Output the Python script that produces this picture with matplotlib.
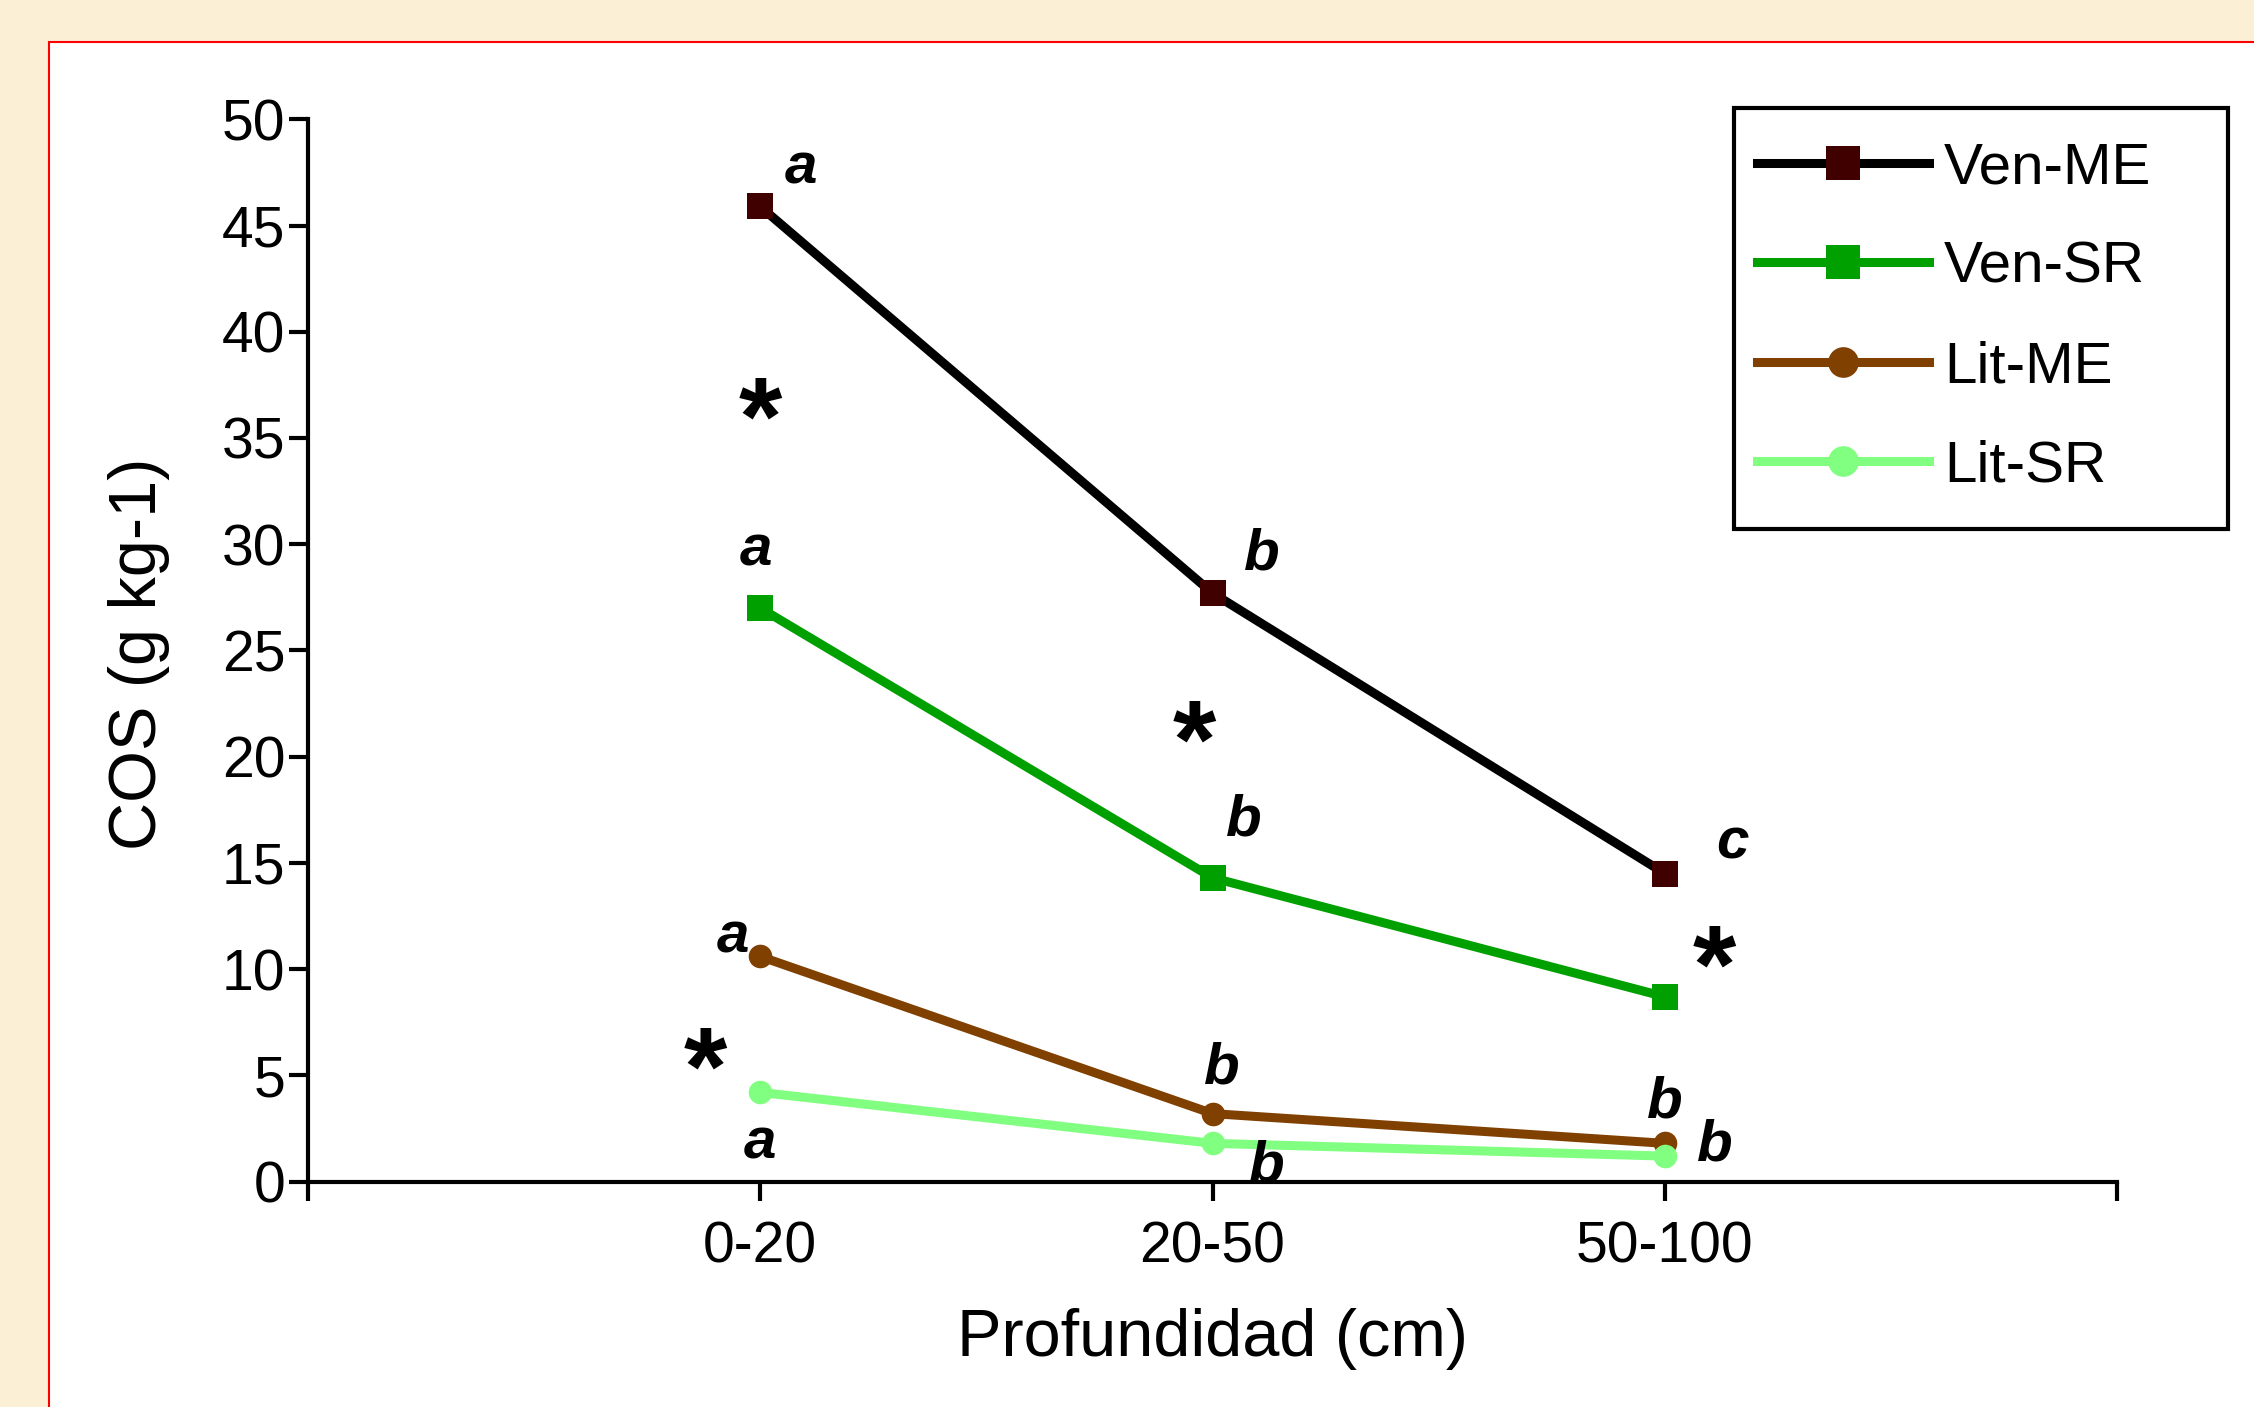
import matplotlib
matplotlib.use("Agg")
import matplotlib.pyplot as plt
from matplotlib.patches import Rectangle

plt.rcParams['font.family'] = ['Liberation Sans', 'DejaVu Sans']

# ---- data ----
categories = ['0-20', '20-50', '50-100']
series_names = ['Ven-ME', 'Ven-SR', 'Lit-ME', 'Lit-SR']
ven_me = [45.9, 27.7, 14.5]
ven_sr = [27.0, 14.3, 8.7]
lit_me = [10.6, 3.2, 1.8]
lit_sr = [4.2, 1.8, 1.2]
y_ticks = [0, 5, 10, 15, 20, 25, 30, 35, 40, 45, 50]

# significance letters
letters_x = [0.09, -0.01, 1.11, 1.07, 2.15, -0.06, 1.02, 0.0, 1.12, 2.0, 2.11]
letters_y = [47.7, 29.7, 29.5, 17.0, 15.9, 11.5, 5.3, 1.8, 0.7, 3.7, 1.7]
letters_s = ['a', 'a', 'b', 'b', 'c', 'a', 'b', 'a', 'b', 'b', 'b']
stars_x = [0.0, 0.96, 2.11, -0.12]
stars_y = [35.6, 20.4, 9.8, 5.0]

W, H = 2254, 1407
fig = plt.figure(figsize=(W / 100, H / 100), dpi=100)
fig.patch.set_facecolor('#FBEFD6')
fig.patches.append(Rectangle((49 / W, -0.05), 1.2, 1 - 42 / H + 0.05,
                             transform=fig.transFigure, facecolor='white',
                             edgecolor='#FF0000', lw=1.5, zorder=-2))
fig.patches.append(Rectangle((1734 / W, 1 - 529 / H), (2228 - 1734) / W, (529 - 108) / H,
                             transform=fig.transFigure, facecolor='white',
                             edgecolor='black', lw=3, zorder=-1))

ax = fig.add_axes([307.6 / W, 1 - 1181.6 / H, (2117.4 - 307.6) / W, (1181.6 - 119.3) / H])
ax.set_zorder(2)
ax.set_facecolor('none')

x = list(range(len(categories)))
styles = [
    dict(color='black', marker='s', mfc='#400000', ms=19),
    dict(color='#00A000', marker='s', mfc='#00A000', ms=19),
    dict(color='#804000', marker='o', mfc='#804000', ms=17),
    dict(color='#80FF80', marker='o', mfc='#80FF80', ms=17),
]
for vals, name, st in zip([ven_me, ven_sr, lit_me, lit_sr], series_names, styles):
    ax.plot(x, vals, color=st['color'], lw=6.5, marker=st['marker'],
            markerfacecolor=st['mfc'], markeredgewidth=0, markersize=st['ms'],
            label=name, clip_on=False, zorder=3)

for lx, ly, s in zip(letters_x, letters_y, letters_s):
    ax.text(lx, ly, s, fontsize=42, fontweight='bold', fontstyle='italic',
            ha='center', va='center', zorder=5)
for sx, sy in zip(stars_x, stars_y):
    ax.text(sx, sy, '*', fontsize=80, fontweight='bold', ha='center',
            va='center', zorder=5)

ax.set_xlim(-1, 3)
ax.set_ylim(0, 50)
ax.set_xticks([-1, 0, 1, 2, 3])
ax.set_xticklabels([''] + categories + [''])
ax.set_yticks(y_ticks)
for s in ['top', 'right']:
    ax.spines[s].set_visible(False)
for s in ['left', 'bottom']:
    ax.spines[s].set_linewidth(3)
ax.tick_params(axis='both', width=3, length=14, labelsize=41, direction='out')
ax.tick_params(axis='y', pad=2)
ax.tick_params(axis='x', pad=14)

ax.set_ylabel('COS (g kg-1)', fontsize=48, va='center')
ax.yaxis.set_label_coords(-0.093, 0.497)
ax.set_xlabel('Profundidad (cm)', fontsize=48, va='center')
ax.xaxis.set_label_coords(0.5, -0.148)

leg = ax.legend(loc='upper left', bbox_to_anchor=(1734 / W, 1 - 118 / H),
                bbox_transform=fig.transFigure, frameon=False, fontsize=42,
                handlelength=2.95, handletextpad=0.25, borderpad=0.4,
                labelspacing=0.78, markerscale=1.3, borderaxespad=0)

fig.savefig('out.png', dpi=100, facecolor=fig.get_facecolor())
